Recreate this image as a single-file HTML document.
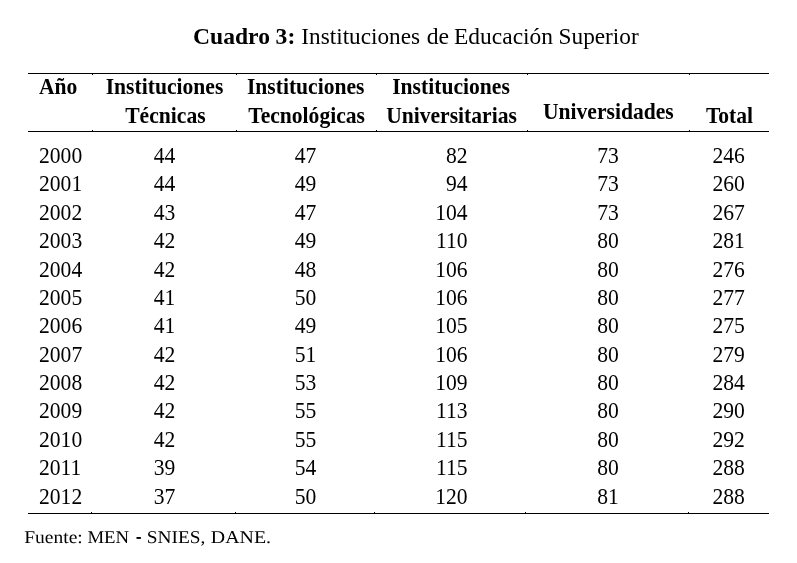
<!DOCTYPE html>
<html><head><meta charset="utf-8"><style>
html,body{margin:0;padding:0;background:#fff;}
body{width:797px;height:563px;overflow:hidden;}
svg{display:block;will-change:transform;}
text{font-family:"Liberation Serif",serif;fill:#000;}
.d{font-size:22.4px;}
.h{font-size:22.5px;font-weight:bold;}
</style></head><body>
<svg width="797" height="563" viewBox="0 0 797 563">
<rect x="0" y="0" width="797" height="563" fill="#fff"/>
<text transform="translate(193.06 43.8) scale(1.0439 1)" style="font-size:22.6px;font-weight:bold;">Cuadro</text>
<text transform="translate(275.62 43.8) scale(1.0438 1)" style="font-size:22.6px;font-weight:bold;">3:</text>
<text transform="translate(301.33 43.8) scale(1.0289 1)" style="font-size:22.6px;">Instituciones</text>
<text transform="translate(426.71 43.8) scale(1.0481 1)" style="font-size:22.6px;">de</text>
<text transform="translate(454.02 43.8) scale(1.0387 1)" style="font-size:22.6px;">Educación</text>
<text transform="translate(558.55 43.8) scale(1.0308 1)" style="font-size:22.6px;">Superior</text>
<g fill="#000">
<rect x="28" y="73" width="741" height="1"/>
<rect x="28" y="131" width="741" height="1"/>
<rect x="28" y="513" width="741" height="1"/>
<rect x="92" y="74" width="1" height="1"/>
<rect x="92" y="130" width="1" height="1"/>
<rect x="236" y="74" width="1" height="1"/>
<rect x="236" y="130" width="1" height="1"/>
<rect x="376" y="74" width="1" height="1"/>
<rect x="376" y="130" width="1" height="1"/>
<rect x="527" y="74" width="1" height="1"/>
<rect x="527" y="130" width="1" height="1"/>
<rect x="689" y="74" width="1" height="1"/>
<rect x="689" y="130" width="1" height="1"/>
<rect x="91" y="512" width="1" height="1"/>
<rect x="235" y="512" width="1" height="1"/>
<rect x="374" y="512" width="1" height="1"/>
<rect x="525" y="512" width="1" height="1"/>
<rect x="688" y="512" width="1" height="1"/>
</g>
<g class="h">
<text transform="translate(39 94) scale(0.9600 1)">Año</text>
<text transform="translate(164.5 94.1) scale(0.9600 1)" text-anchor="middle">Instituciones</text>
<text transform="translate(165.4 122.7) scale(0.9600 1)" text-anchor="middle">Técnicas</text>
<text transform="translate(305.7 94.1) scale(0.9600 1)" text-anchor="middle">Instituciones</text>
<text transform="translate(306.6 122.7) scale(0.9600 1)" text-anchor="middle">Tecnológicas</text>
<text transform="translate(451 94.1) scale(0.9600 1)" text-anchor="middle">Instituciones</text>
<text transform="translate(451.5 122.7) scale(0.9600 1)" text-anchor="middle">Universitarias</text>
<text transform="translate(608.3 118.9) scale(0.9600 1)" text-anchor="middle">Universidades</text>
<text transform="translate(729.5 122.6) scale(0.9600 1)" text-anchor="middle">Total</text>
</g>
<g class="d">
<text transform="translate(39.0 162.95) scale(0.9643 1)">2000</text>
<text transform="translate(164.5 162.95) scale(0.9643 1)" text-anchor="middle">44</text>
<text transform="translate(305.6 162.95) scale(0.9643 1)" text-anchor="middle">47</text>
<text transform="translate(467.6 162.95) scale(0.9643 1)" text-anchor="end">82</text>
<text transform="translate(608.0 162.95) scale(0.9643 1)" text-anchor="middle">73</text>
<text transform="translate(728.6 162.95) scale(0.9643 1)" text-anchor="middle">246</text>
<text transform="translate(39.0 190.95) scale(0.9643 1)">2001</text>
<text transform="translate(164.5 190.95) scale(0.9643 1)" text-anchor="middle">44</text>
<text transform="translate(305.6 190.95) scale(0.9643 1)" text-anchor="middle">49</text>
<text transform="translate(467.6 190.95) scale(0.9643 1)" text-anchor="end">94</text>
<text transform="translate(608.0 190.95) scale(0.9643 1)" text-anchor="middle">73</text>
<text transform="translate(728.6 190.95) scale(0.9643 1)" text-anchor="middle">260</text>
<text transform="translate(39.0 219.95) scale(0.9643 1)">2002</text>
<text transform="translate(164.5 219.95) scale(0.9643 1)" text-anchor="middle">43</text>
<text transform="translate(305.6 219.95) scale(0.9643 1)" text-anchor="middle">47</text>
<text transform="translate(467.6 219.95) scale(0.9643 1)" text-anchor="end">104</text>
<text transform="translate(608.0 219.95) scale(0.9643 1)" text-anchor="middle">73</text>
<text transform="translate(728.6 219.95) scale(0.9643 1)" text-anchor="middle">267</text>
<text transform="translate(39.0 247.95) scale(0.9643 1)">2003</text>
<text transform="translate(164.5 247.95) scale(0.9643 1)" text-anchor="middle">42</text>
<text transform="translate(305.6 247.95) scale(0.9643 1)" text-anchor="middle">49</text>
<text transform="translate(467.6 247.95) scale(0.9643 1)" text-anchor="end">110</text>
<text transform="translate(608.0 247.95) scale(0.9643 1)" text-anchor="middle">80</text>
<text transform="translate(728.6 247.95) scale(0.9643 1)" text-anchor="middle">281</text>
<text transform="translate(39.0 276.95) scale(0.9643 1)">2004</text>
<text transform="translate(164.5 276.95) scale(0.9643 1)" text-anchor="middle">42</text>
<text transform="translate(305.6 276.95) scale(0.9643 1)" text-anchor="middle">48</text>
<text transform="translate(467.6 276.95) scale(0.9643 1)" text-anchor="end">106</text>
<text transform="translate(608.0 276.95) scale(0.9643 1)" text-anchor="middle">80</text>
<text transform="translate(728.6 276.95) scale(0.9643 1)" text-anchor="middle">276</text>
<text transform="translate(39.0 304.95) scale(0.9643 1)">2005</text>
<text transform="translate(164.5 304.95) scale(0.9643 1)" text-anchor="middle">41</text>
<text transform="translate(305.6 304.95) scale(0.9643 1)" text-anchor="middle">50</text>
<text transform="translate(467.6 304.95) scale(0.9643 1)" text-anchor="end">106</text>
<text transform="translate(608.0 304.95) scale(0.9643 1)" text-anchor="middle">80</text>
<text transform="translate(728.6 304.95) scale(0.9643 1)" text-anchor="middle">277</text>
<text transform="translate(39.0 332.95) scale(0.9643 1)">2006</text>
<text transform="translate(164.5 332.95) scale(0.9643 1)" text-anchor="middle">41</text>
<text transform="translate(305.6 332.95) scale(0.9643 1)" text-anchor="middle">49</text>
<text transform="translate(467.6 332.95) scale(0.9643 1)" text-anchor="end">105</text>
<text transform="translate(608.0 332.95) scale(0.9643 1)" text-anchor="middle">80</text>
<text transform="translate(728.6 332.95) scale(0.9643 1)" text-anchor="middle">275</text>
<text transform="translate(39.0 361.95) scale(0.9643 1)">2007</text>
<text transform="translate(164.5 361.95) scale(0.9643 1)" text-anchor="middle">42</text>
<text transform="translate(305.6 361.95) scale(0.9643 1)" text-anchor="middle">51</text>
<text transform="translate(467.6 361.95) scale(0.9643 1)" text-anchor="end">106</text>
<text transform="translate(608.0 361.95) scale(0.9643 1)" text-anchor="middle">80</text>
<text transform="translate(728.6 361.95) scale(0.9643 1)" text-anchor="middle">279</text>
<text transform="translate(39.0 389.95) scale(0.9643 1)">2008</text>
<text transform="translate(164.5 389.95) scale(0.9643 1)" text-anchor="middle">42</text>
<text transform="translate(305.6 389.95) scale(0.9643 1)" text-anchor="middle">53</text>
<text transform="translate(467.6 389.95) scale(0.9643 1)" text-anchor="end">109</text>
<text transform="translate(608.0 389.95) scale(0.9643 1)" text-anchor="middle">80</text>
<text transform="translate(728.6 389.95) scale(0.9643 1)" text-anchor="middle">284</text>
<text transform="translate(39.0 417.95) scale(0.9643 1)">2009</text>
<text transform="translate(164.5 417.95) scale(0.9643 1)" text-anchor="middle">42</text>
<text transform="translate(305.6 417.95) scale(0.9643 1)" text-anchor="middle">55</text>
<text transform="translate(467.6 417.95) scale(0.9643 1)" text-anchor="end">113</text>
<text transform="translate(608.0 417.95) scale(0.9643 1)" text-anchor="middle">80</text>
<text transform="translate(728.6 417.95) scale(0.9643 1)" text-anchor="middle">290</text>
<text transform="translate(39.0 446.95) scale(0.9643 1)">2010</text>
<text transform="translate(164.5 446.95) scale(0.9643 1)" text-anchor="middle">42</text>
<text transform="translate(305.6 446.95) scale(0.9643 1)" text-anchor="middle">55</text>
<text transform="translate(467.6 446.95) scale(0.9643 1)" text-anchor="end">115</text>
<text transform="translate(608.0 446.95) scale(0.9643 1)" text-anchor="middle">80</text>
<text transform="translate(728.6 446.95) scale(0.9643 1)" text-anchor="middle">292</text>
<text transform="translate(39.0 474.95) scale(0.9643 1)">2011</text>
<text transform="translate(164.5 474.95) scale(0.9643 1)" text-anchor="middle">39</text>
<text transform="translate(305.6 474.95) scale(0.9643 1)" text-anchor="middle">54</text>
<text transform="translate(467.6 474.95) scale(0.9643 1)" text-anchor="end">115</text>
<text transform="translate(608.0 474.95) scale(0.9643 1)" text-anchor="middle">80</text>
<text transform="translate(728.6 474.95) scale(0.9643 1)" text-anchor="middle">288</text>
<text transform="translate(39.0 503.95) scale(0.9643 1)">2012</text>
<text transform="translate(164.5 503.95) scale(0.9643 1)" text-anchor="middle">37</text>
<text transform="translate(305.6 503.95) scale(0.9643 1)" text-anchor="middle">50</text>
<text transform="translate(467.6 503.95) scale(0.9643 1)" text-anchor="end">120</text>
<text transform="translate(608.0 503.95) scale(0.9643 1)" text-anchor="middle">81</text>
<text transform="translate(728.6 503.95) scale(0.9643 1)" text-anchor="middle">288</text>
</g>
<text transform="translate(24.16 542.8) scale(1.0846 1)" style="font-size:18px;text-rendering:geometricPrecision;">Fuente:</text>
<text transform="translate(87.38 542.8) scale(1.041 1)" style="font-size:18px;text-rendering:geometricPrecision;">MEN</text>
<text transform="translate(146.76 542.8) scale(1.075 1)" style="font-size:18px;text-rendering:geometricPrecision;">SNIES,</text>
<text transform="translate(210.85 542.8) scale(1.1052 1)" style="font-size:18px;text-rendering:geometricPrecision;">DANE.</text>
<rect x="136.5" y="537" width="4.4" height="1.9" fill="#000"/>
</svg>
</body></html>
